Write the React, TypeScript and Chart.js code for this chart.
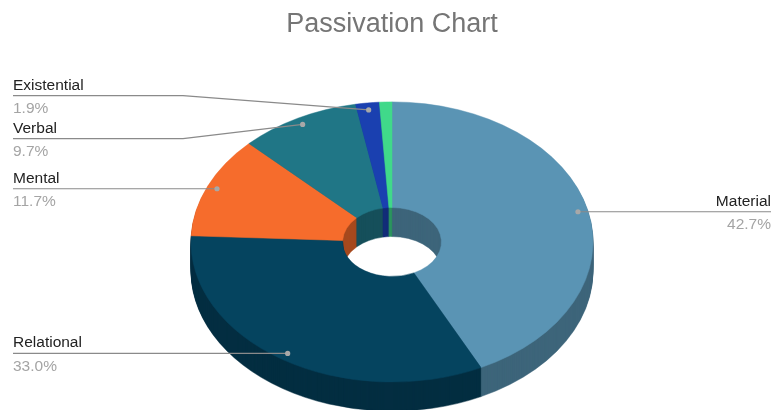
import React, { useEffect, useRef } from "react";
import { Chart, registerables } from "chart.js";

Chart.register(...registerables);

const TITLE = "Passivation Chart";
const categories = ["Material", "Relational", "Mental", "Verbal", "Existential", "Behavioural"];
const values = [42.7, 33.0, 11.7, 9.7, 1.9, 1.0];
const colors = ["#5a94b4", "#05445f", "#f66c2c", "#207686", "#1a40b0", "#40d98a"];

const FONT = "'Liberation Sans', Arial, sans-serif";

function shade(hex: string, f: number) {
  const h = hex.replace("#", "");
  const r = Math.round(parseInt(h.slice(0, 2), 16) * f);
  const g = Math.round(parseInt(h.slice(2, 4), 16) * f);
  const b = Math.round(parseInt(h.slice(4, 6), 16) * f);
  return `rgb(${r},${g},${b})`;
}

const pie3d = {
  id: "pie3d",
  beforeDatasetsDraw(chart: any, _args: any, opts: any) {
    const ctx = chart.ctx;
    const arcs = chart.getDatasetMeta(0).data;
    if (!arcs.length) return;
    const cx = arcs[0].x;
    const cy = arcs[0].y;
    const tilt = opts.tilt;
    for (let d = opts.depth; d >= 1; d--) {
      ctx.save();
      ctx.translate(0, d);
      ctx.translate(cx, cy);
      ctx.scale(1, tilt);
      ctx.translate(-cx, -cy);
      arcs.forEach((arc: any) => {
        const proxy = Object.create(arc);
        proxy.options = Object.assign({}, arc.options, {
          backgroundColor: shade(arc.options.backgroundColor, opts.shade),
          borderColor: shade(arc.options.backgroundColor, opts.shade),
        });
        arc.draw.call(proxy, ctx);
      });
      ctx.restore();
    }
    ctx.save();
    ctx.translate(cx, cy);
    ctx.scale(1, tilt);
    ctx.translate(-cx, -cy);
  },
  afterDatasetsDraw(chart: any) {
    chart.ctx.restore();
  },
};

const sideLabels = {
  id: "sideLabels",
  afterDraw(chart: any, _args: any, opts: any) {
    const ctx = chart.ctx;
    const arcs = chart.getDatasetMeta(0).data;
    const data = chart.data.datasets[0].data as number[];
    const total = data.reduce((a: number, b: number) => a + b, 0);
    const tilt = chart.options.plugins.pie3d.tilt;
    const items: any[] = [];
    arcs.forEach((arc: any, i: number) => {
      const pct = (data[i] / total) * 100;
      if (pct < opts.minPercent) return;
      const mid = (arc.startAngle + arc.endAngle) / 2;
      const r = arc.outerRadius * opts.dotRadius;
      const x = arc.x + r * Math.cos(mid);
      const y = arc.y + r * Math.sin(mid) * tilt;
      items.push({
        name: chart.data.labels[i],
        pct: pct.toFixed(1) + "%",
        x, y, ly: y,
        left: x < arc.x,
        cx: arc.x,
        R: arc.outerRadius,
      });
    });
    [true, false].forEach((side) => {
      const group = items.filter((it) => it.left === side).sort((a, b) => a.y - b.y);
      for (let iter = 0; iter < 50; iter++) {
        for (let k = 1; k < group.length; k++) {
          const a = group[k - 1];
          const b = group[k];
          const diff = b.ly - a.ly;
          if (diff < opts.gap) {
            const o = (opts.gap - diff) / 2;
            a.ly -= o;
            b.ly += o;
          }
        }
      }
    });
    const W = chart.width;
    ctx.save();
    items.forEach((it) => {
      const textX = it.left ? opts.marginLeft : W - opts.marginRight;
      const elbowX = it.left ? it.cx - it.R - 8 : it.cx + it.R + 8;
      ctx.strokeStyle = opts.lineColor;
      ctx.lineWidth = 1.2;
      ctx.beginPath();
      ctx.moveTo(textX, it.ly);
      if (Math.abs(it.ly - it.y) > 0.5) {
        ctx.lineTo(elbowX, it.ly);
      }
      ctx.lineTo(it.x, it.y);
      ctx.stroke();
      ctx.fillStyle = opts.dotColor;
      ctx.beginPath();
      ctx.arc(it.x, it.y, 2.6, 0, Math.PI * 2);
      ctx.fill();
      ctx.textAlign = it.left ? "left" : "right";
      ctx.textBaseline = "alphabetic";
      ctx.font = `15.5px ${FONT}`;
      ctx.fillStyle = "#222222";
      ctx.fillText(it.name, textX, it.ly - 6);
      ctx.fillStyle = "#a4a4a4";
      ctx.fillText(it.pct, textX, it.ly + 17.5);
    });
    ctx.restore();
  },
};

export default function App() {
  const ref = useRef<HTMLCanvasElement>(null);
  useEffect(() => {
    if (!ref.current) return;
    const chart = new Chart(ref.current, {
      type: "doughnut",
      data: {
        labels: categories,
        datasets: [
          {
            data: values,
            backgroundColor: colors,
            borderColor: colors,
            borderWidth: 0.6,
            radius: 201,
            cutout: "24.6%",
          } as any,
        ],
      },
      options: {
        animation: false,
        responsive: false,
        events: [],
        layout: { padding: { left: 10, right: 0, top: 0, bottom: 0 } },
        plugins: {
          legend: { display: false },
          tooltip: { enabled: false },
          title: {
            display: true,
            text: TITLE,
            color: "#757575",
            font: { family: FONT, size: 27, weight: "normal", lineHeight: 1.2 },
            padding: { top: 8, bottom: 33.6 },
          },
          pie3d: { tilt: 0.697, depth: 29, shade: 0.68 },
          sideLabels: {
            minPercent: 1.5,
            dotRadius: 0.95,
            gap: 43,
            marginLeft: 13,
            marginRight: 3,
            lineColor: "#8a8a8a",
            dotColor: "#a8a8a8",
          },
        } as any,
      },
      plugins: [pie3d, sideLabels],
    });
    return () => chart.destroy();
  }, []);
  return (
    <div style={{ position: "absolute", left: 0, top: 0, width: 774, height: 410 }}>
      <canvas ref={ref} width={774} height={410} style={{ display: "block" }} />
    </div>
  );
}
